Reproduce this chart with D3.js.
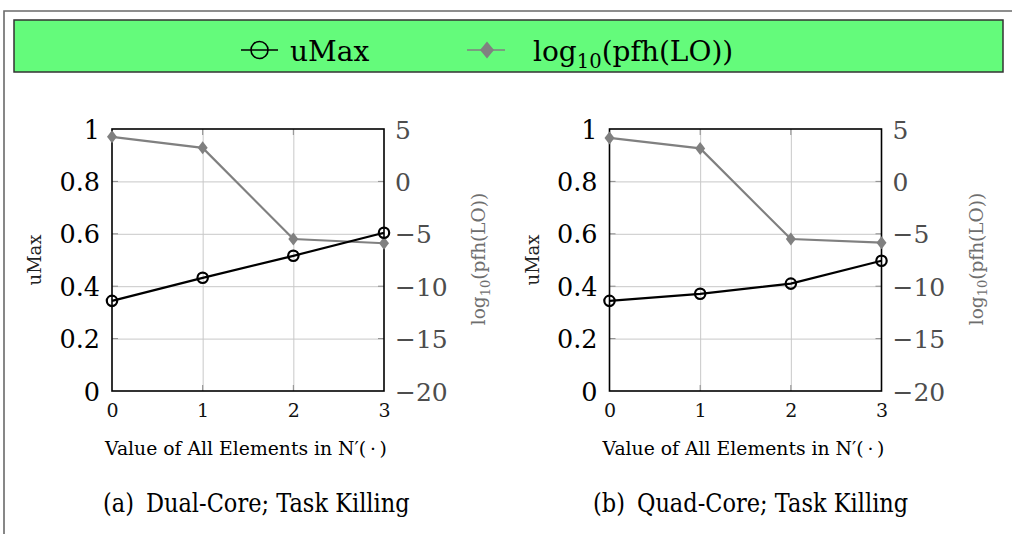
<!DOCTYPE html>
<meta charset="utf-8">
<title>uMax and log10(pfh(LO)) versus N'(.)</title>
<style>
*{
  margin: 0;
  padding: 0;
}
body{
  background: #fff;
}
svg{
  display: block;
  font-family: "DejaVu Serif", serif;
}
.grid line{
  stroke: #c8c8c8;
  stroke-width: 1;
}
.grid path{
  display: none;
}
.tick-in{
  stroke: #8c8c8c;
  stroke-width: 1;
}
.frame{
  fill: none;
  stroke: #000;
  stroke-width: 1.6;
}
</style>
<body>
<div id="chart"></div>
<script src="https://d3js.org/d3.v7.min.js"></script>
<script>

// values
var xVals = [0, 1, 2, 3];
var uMaxTicks = [0, 0.2, 0.4, 0.6, 0.8, 1];
var logTicks = [-20, -15, -10, -5, 0, 5];

var dualUMax = [0.344, 0.432, 0.516, 0.604];
var dualLog = [4.25, 3.2, -5.5, -5.9];
var quadUMax = [0.344, 0.371, 0.41, 0.497];
var quadLog = [4.15, 3.15, -5.5, -5.85];

var captions = ["(a)", "(b)"];
var captionTexts = ["Dual-Core; Task Killing", "Quad-Core; Task Killing"];
var xLabel = "Value of All Elements in N\u2032(\u2009\u00b7\u2009)";

var width = 1012,
    height = 534;

var plotW = 272,
    plotTop = 129,
    plotBottom = 391;

var grayLine = "#808080";

var svg = d3.select("#chart").append("svg")
  .attr("width", width)
  .attr("height", height);

/* outer frame and legend box */
svg.append("path")
  .attr("d", "M4," + height + "V11H" + width)
  .attr("fill", "none")
  .attr("stroke", "#6a6a6a")
  .attr("stroke-width", 1.6);

var legend = svg.append("g");
legend.append("rect")
  .attr("x", 14).attr("y", 20)
  .attr("width", 989).attr("height", 52)
  .attr("fill", "#64fb7b")
  .attr("stroke", "#333")
  .attr("stroke-width", 1.5);

legend.append("line")
  .attr("x1", 241).attr("x2", 278).attr("y1", 50).attr("y2", 50)
  .attr("stroke", "#000").attr("stroke-width", 1.5);
legend.append("ellipse")
  .attr("cx", 259.5).attr("cy", 50).attr("rx", 8.5).attr("ry", 8.5)
  .attr("fill", "none").attr("stroke", "#000").attr("stroke-width", 1.6);
legend.append("text")
  .attr("x", 290).attr("y", 61)
  .attr("font-size", 28)
  .text("uMax");

legend.append("line")
  .attr("x1", 467).attr("x2", 505).attr("y1", 50).attr("y2", 50)
  .attr("stroke", grayLine).attr("stroke-width", 1.5);
legend.append("path")
  .attr("d", diamond(487, 50, 7, 8.5))
  .attr("fill", grayLine);
var lt = legend.append("text")
  .attr("x", 533).attr("y", 61)
  .attr("font-size", 28);
logText(lt, 19.6, 7);

function diamond(cx, cy, hw, hh){
  return "M" + cx + "," + (cy - hh) + "L" + (cx + hw) + "," + cy +
    "L" + cx + "," + (cy + hh) + "L" + (cx - hw) + "," + cy + "Z";
}

function logText(sel, subSize, shift){
  sel.append("tspan").text("log");
  sel.append("tspan").attr("font-size", subSize).attr("dy", shift).text("10");
  sel.append("tspan").attr("dy", -shift).text("(pfh(LO))");
}

/* one panel */
function drawPanel(left, uMax, logv, capIndex, capX){
  var x = d3.scaleLinear().domain([0, 3]).range([left, left + plotW]);
  var yL = d3.scaleLinear().domain([0, 1]).range([plotBottom, plotTop]);
  var yR = d3.scaleLinear().domain([-20, 5]).range([plotBottom, plotTop]);

  var g = svg.append("g");

  // grid
  g.append("g")
    .attr("class", "grid")
    .attr("transform", "translate(" + left + ",0)")
    .call(d3.axisLeft(yL).tickValues(uMaxTicks.slice(1, -1)).tickSize(-plotW).tickFormat(""));
  g.append("g")
    .attr("class", "grid")
    .attr("transform", "translate(0," + plotBottom + ")")
    .call(d3.axisBottom(x).tickValues(xVals.slice(1, -1)).tickSize(-(plotBottom - plotTop)).tickFormat(""));

  // inner ticks
  uMaxTicks.slice(1, -1).forEach(function(v){
    g.append("line").attr("class", "tick-in")
      .attr("x1", left).attr("x2", left + 6).attr("y1", yL(v)).attr("y2", yL(v));
    g.append("line").attr("class", "tick-in")
      .attr("x1", left + plotW - 6).attr("x2", left + plotW).attr("y1", yL(v)).attr("y2", yL(v));
  });
  xVals.slice(1, -1).forEach(function(v){
    g.append("line").attr("class", "tick-in")
      .attr("x1", x(v)).attr("x2", x(v)).attr("y1", plotBottom).attr("y2", plotBottom - 6);
    g.append("line").attr("class", "tick-in")
      .attr("x1", x(v)).attr("x2", x(v)).attr("y1", plotTop).attr("y2", plotTop + 6);
  });

  g.append("rect").attr("class", "frame")
    .attr("x", left).attr("y", plotTop)
    .attr("width", plotW).attr("height", plotBottom - plotTop);

  // tick labels
  var ax = g.append("g")
    .attr("transform", "translate(" + left + ",0)")
    .call(d3.axisLeft(yL).tickValues(uMaxTicks).tickSize(0).tickPadding(12).tickFormat(d3.format("")));
  ax.select(".domain").remove();
  ax.selectAll("text").attr("dy", "0.36em").attr("font-size", 25.5)
    .attr("font-family", "DejaVu Serif").attr("fill", "#000");

  var ar = g.append("g")
    .attr("transform", "translate(" + (left + plotW) + ",0)")
    .call(d3.axisRight(yR).tickValues(logTicks).tickSize(0).tickPadding(11).tickFormat(d3.format("")));
  ar.select(".domain").remove();
  ar.selectAll("text").attr("dy", "0.36em").attr("font-size", 25)
    .attr("font-family", "DejaVu Serif").attr("fill", "#4d4d4d");

  var axb = g.append("g")
    .attr("transform", "translate(0," + plotBottom + ")")
    .call(d3.axisBottom(x).tickValues(xVals).tickSize(0).tickFormat(d3.format("d")));
  axb.select(".domain").remove();
  axb.selectAll("text").attr("y", 26).attr("dy", null).attr("font-size", 19)
    .attr("font-family", "DejaVu Serif").attr("fill", "#111");

  // axis titles
  g.append("text")
    .attr("transform", "translate(" + (left - 71) + ",260) rotate(-90)")
    .attr("text-anchor", "middle")
    .attr("font-size", 18)
    .attr("fill", "#222")
    .text("uMax");

  var rl = g.append("text")
    .attr("transform", "translate(" + (left + plotW + 101) + ",259) rotate(-90)")
    .attr("text-anchor", "middle")
    .attr("font-size", 18.5)
    .attr("fill", "#6e6e6e");
  logText(rl, 13, 4.5);

  g.append("text")
    .attr("x", left + plotW / 2 - 2).attr("y", 455)
    .attr("text-anchor", "middle")
    .attr("font-size", 18.8)
    .text(xLabel);

  var cap = g.append("text")
    .attr("transform", "translate(" + capX + ",512) scale(1,1.15)")
    .attr("font-size", 22.5);
  cap.append("tspan").text(captions[capIndex]);
  cap.append("tspan").attr("dx", 12).text(captionTexts[capIndex]);

  // log series
  var logLine = d3.line()
    .x(function(d, i){ return x(xVals[i]); })
    .y(function(d){ return yR(d); });
  g.append("path")
    .datum(logv)
    .attr("d", logLine)
    .attr("fill", "none")
    .attr("stroke", grayLine)
    .attr("stroke-width", 2.2);
  g.selectAll(".dia")
    .data(logv)
    .enter().append("path")
    .attr("d", function(d, i){ return diamond(x(xVals[i]), yR(d), 5, 6.5); })
    .attr("fill", grayLine);

  // uMax series
  var uLine = d3.line()
    .x(function(d, i){ return x(xVals[i]); })
    .y(function(d){ return yL(d); });
  g.append("path")
    .datum(uMax)
    .attr("d", uLine)
    .attr("fill", "none")
    .attr("stroke", "#000")
    .attr("stroke-width", 2.2);
  g.selectAll(".circ")
    .data(uMax)
    .enter().append("circle")
    .attr("cx", function(d, i){ return x(xVals[i]); })
    .attr("cy", function(d){ return yL(d); })
    .attr("r", 5.2)
    .attr("fill", "none")
    .attr("stroke", "#000")
    .attr("stroke-width", 2.2);
}

drawPanel(112, dualUMax, dualLog, 0, 103);
drawPanel(609.5, quadUMax, quadLog, 1, 593);

</script>
</body>
</html>
